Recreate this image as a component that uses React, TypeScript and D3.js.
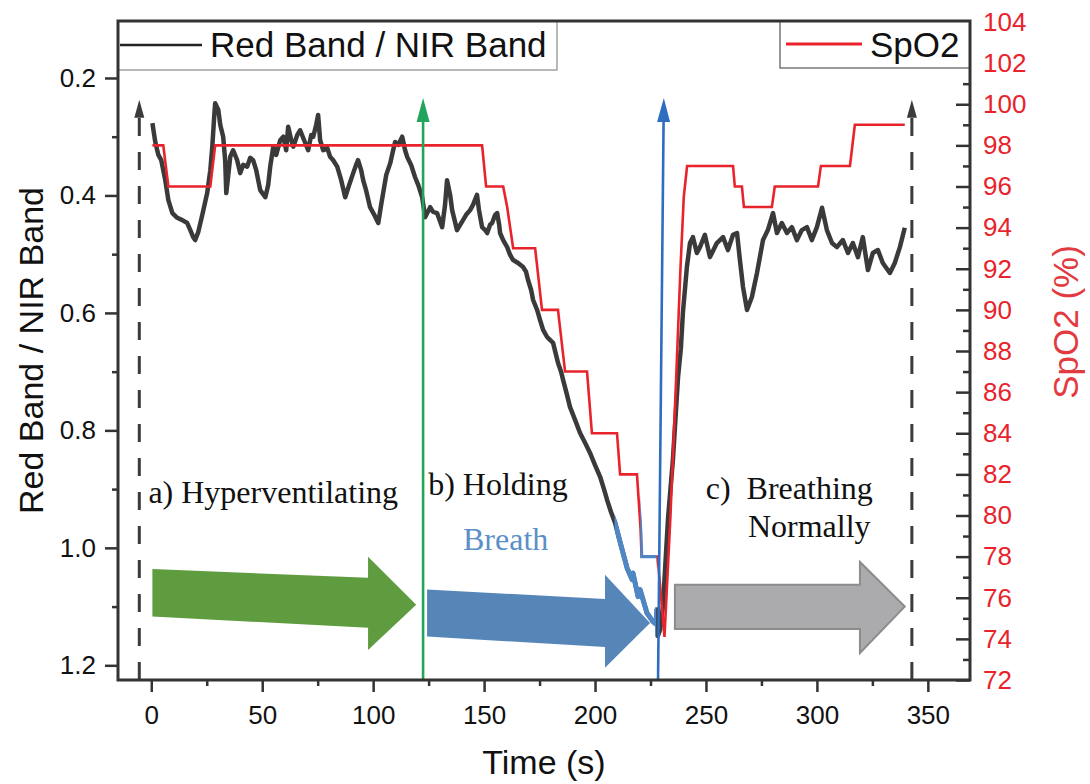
import React, { useEffect, useRef } from 'react';
import * as d3 from 'd3';

// Red band / NIR band ratio (left axis, inverted)
const ratioTime = [0.5, 1.8, 3.2, 4.5, 6.3, 7.7, 9.5, 11.7, 14, 16.2, 17.6, 18.9, 19.8, 21.2, 23, 25.2, 26.6, 27.5, 28.4, 28.8,
  30.2, 31.1, 32.4, 33.3, 33.8, 34.7, 35.6, 36.9, 38.7, 40.1, 41.4, 43.2, 44.6, 45.9, 47.3, 49.1, 51.4, 52.7, 53.6, 55,
  56.3, 58.1, 59.5, 60.8, 61.7, 63.1, 64, 65.8, 67.1, 68.9, 70.7, 72.1, 73, 74.3, 75.2, 76.1, 77.5, 79.3, 80.6, 82,
  83.8, 85.6, 87.4, 89.2, 91, 92.3, 93.2, 94.6, 95.5, 96.8, 98.6, 100.5, 102.3, 103.6, 104.5, 105.9, 107.7, 109, 109.9, 111.3,
  113.1, 114.4, 115.3, 117.1, 118.9, 120.3, 122.1, 123.4, 125.7, 127, 128.8, 131.1, 132.4, 133.3, 134.7, 135.6, 136.9, 137.8, 139.2, 140.5,
  141.9, 143.7, 145, 146.8, 147.7, 149.1, 150.5, 151.4, 152.7, 153.6, 155, 155.9, 156.8, 157.2, 158.6, 160.4, 161.7, 163.1, 165.3, 167.6,
  168.9, 169.8, 171.2, 172.1, 173.9, 175.2, 176.6, 178.4, 179.7, 181.1, 182.4, 183.3, 184.7, 185.6, 187.4, 188.7, 191, 193.2, 195.5, 197.7,
  200, 202.3, 204.1, 205.4, 207.2, 209, 212, 214.5, 216.7, 217.1, 219.4, 220.3, 223.4, 226, 227.5, 227.9, 228.3, 229.3, 230.6, 232.9,
  235.1, 237.4, 238.7, 239.6, 241.4, 242.8, 244.1, 245.9, 247.3, 249.5, 251.8, 254.9, 257.7, 259.9, 262.2, 264, 265.3, 266.7, 268.5, 270.7,
  273, 275.7, 277.9, 280.2, 282, 284.2, 286.5, 288.7, 291, 293.2, 295.5, 297.7, 300, 302.3, 304.5, 306.8, 309, 311.7, 314, 316.2,
  318.5, 320.7, 323, 325.2, 327.5, 329.7, 332.9, 335.1, 337.4, 339.6];
const ratioValue = [0.277, 0.309, 0.331, 0.34, 0.374, 0.408, 0.43, 0.438, 0.442, 0.447, 0.459, 0.471, 0.476, 0.462, 0.433, 0.396, 0.357, 0.317, 0.263, 0.243,
  0.254, 0.28, 0.3, 0.34, 0.396, 0.365, 0.334, 0.323, 0.34, 0.362, 0.348, 0.351, 0.336, 0.34, 0.357, 0.391, 0.403, 0.382, 0.351, 0.317,
  0.331, 0.306, 0.3, 0.323, 0.283, 0.306, 0.317, 0.297, 0.289, 0.306, 0.323, 0.297, 0.3, 0.28, 0.263, 0.306, 0.323, 0.319, 0.334, 0.34,
  0.351, 0.374, 0.403, 0.382, 0.362, 0.348, 0.34, 0.357, 0.374, 0.391, 0.42, 0.433, 0.447, 0.416, 0.396, 0.365, 0.345, 0.323, 0.309, 0.314,
  0.3, 0.323, 0.334, 0.348, 0.369, 0.382, 0.403, 0.437, 0.42, 0.428, 0.43, 0.454, 0.416, 0.374, 0.399, 0.425, 0.445, 0.459, 0.45, 0.442,
  0.433, 0.425, 0.416, 0.399, 0.425, 0.454, 0.459, 0.464, 0.45, 0.447, 0.433, 0.43, 0.45, 0.464, 0.476, 0.488, 0.501, 0.51, 0.515, 0.522,
  0.53, 0.544, 0.561, 0.578, 0.595, 0.612, 0.629, 0.641, 0.646, 0.651, 0.671, 0.685, 0.7, 0.714, 0.74, 0.76, 0.782, 0.804, 0.821, 0.838,
  0.859, 0.879, 0.901, 0.918, 0.939, 0.957, 1.0, 1.035, 1.054, 1.043, 1.083, 1.071, 1.111, 1.125, 1.13, 1.105, 1.15, 1.14, 1.1, 0.95,
  0.85, 0.71, 0.66, 0.6, 0.522, 0.481, 0.471, 0.498, 0.488, 0.467, 0.505, 0.481, 0.471, 0.493, 0.467, 0.464, 0.51, 0.556, 0.595, 0.573,
  0.532, 0.476, 0.459, 0.43, 0.464, 0.447, 0.464, 0.454, 0.476, 0.459, 0.454, 0.476, 0.454, 0.421, 0.459, 0.481, 0.488, 0.476, 0.498, 0.481,
  0.505, 0.471, 0.527, 0.498, 0.493, 0.515, 0.532, 0.515, 0.488, 0.455];

// SpO2 (right axis)
const spo2Time = [0.5, 5.4, 7.7, 26.6, 28.8, 149.1, 150.9, 158.6, 160.4, 163.1, 173, 176.1, 183.3, 186.5, 196.4, 198.6, 209.9, 211.3, 218.9, 220.5,
  221, 227, 228.2, 231.3, 234, 236.5, 238.5, 240, 241.5, 262.2, 263, 266.2, 267.1, 279.7, 281, 300.5, 301.8, 314.9, 317.1, 339.6];
const spo2Value = [98, 98, 96, 96, 98, 98, 96, 96, 95, 93, 93, 90, 90, 87, 87, 84, 84, 82, 82, 79.4,
  78, 78, 78, 74.1, 80, 86.5, 92, 95.5, 97, 97, 96, 96, 95, 95, 96, 96, 97, 97, 99, 99];

// parts of the two curves re-coloured blue in the "breath holding" zone
const ratioBlueWindow = [208.8, 227.6];
const spo2BlueWindow = [220.4, 227.8];

const xTicks = [0, 50, 100, 150, 200, 250, 300, 350];
const xMinorTicks = [25, 75, 125, 175, 225, 275, 325];
const leftTicks = [0.2, 0.4, 0.6, 0.8, 1.0, 1.2];
const leftMinorTicks = [0.3, 0.5, 0.7, 0.9, 1.1];
const rightTicks = [72, 74, 76, 78, 80, 82, 84, 86, 88, 90, 92, 94, 96, 98, 100, 102, 104];
const rightMinorTicks = [73, 75, 77, 79, 81, 83, 85, 87, 89, 91, 93, 95, 97, 99, 101, 103];

// phase markers: [time at base, time at tip, ratio at tip]
const dashedMarkers = [[-5.4, -5.4, 0.237], [342.8, 342.8, 0.237]];
const greenMarker = [122.5, 122.5, 0.234];
const blueMarker = [228.4, 231, 0.234];

// block arrows as [time, ratio] outlines
const greenBlock = [[0.5, 1.036], [97.7, 1.051], [97.7, 1.015], [119.4, 1.097], [97.7, 1.174], [97.7, 1.136], [0.5, 1.117]];
const blueBlock = [[124.3, 1.071], [204.5, 1.087], [204.5, 1.046], [224.8, 1.128], [204.5, 1.204], [204.5, 1.169], [124.3, 1.151]];
const grayBlock = [[236, 1.063], [319.4, 1.063], [319.4, 1.024], [339.6, 1.1], [319.4, 1.179], [319.4, 1.138], [236, 1.138]];

// phase labels [text, time, ratio, colour]
const phaseLabels = [
  ['a) Hyperventilating', -1.3, 0.923, '#111'],
  ['b) Holding', 124.8, 0.91, '#111'],
  ['Breath', 140.5, 1.003, '#5b8fc8'],
  ['c)  Breathing', 249.9, 0.917, '#111'],
  ['Normally', 268.9, 0.981, '#111'],
];

const W = 1090, H = 784;
const left = 118, right = 970, top = 21, bottom = 680;
const SANS = '"Liberation Sans", Arial, sans-serif';
const SERIF = '"Liberation Serif", "Times New Roman", serif';
const RED = '#e8232b';
const AXIS = '#333';

export default function App() {
  const ref = useRef<SVGSVGElement>(null);

  useEffect(() => {
    const svg = d3.select(ref.current);
    svg.selectAll('*').remove();

    const x = d3.scaleLinear().domain([-15, 369]).range([left, right]);
    const y = d3.scaleLinear().domain([0.103, 1.225]).range([top, bottom]);
    const y2 = d3.scaleLinear().domain([72, 104]).range([bottom, top + 1]);

    const defs = svg.append('defs');
    const addClip = (id: string, w: number[]) =>
      defs.append('clipPath').attr('id', id).append('rect')
        .attr('x', x(w[0])).attr('y', top).attr('width', x(w[1]) - x(w[0])).attr('height', bottom - top);
    addClip('blueRatio', ratioBlueWindow);
    addClip('blueSpo2', spo2BlueWindow);

    // block arrows
    const blockLine = d3.line<number[]>().x(d => x(d[0])).y(d => y(d[1]));
    const blocks: [number[][], string, string][] = [
      [greenBlock, '#5f9c3f', 'none'],
      [blueBlock, '#5686b8', 'none'],
      [grayBlock, '#ababad', '#8c8c8c'],
    ];
    blocks.forEach(([pts, fill, stroke]) => {
      svg.append('path').attr('d', blockLine(pts) + 'Z')
        .attr('fill', fill).attr('stroke', stroke).attr('stroke-width', 2);
    });

    // ratio curve
    const ratioData = ratioTime.map((t, i) => [t, ratioValue[i]]);
    const ratioLine = d3.line<number[]>().x(d => x(d[0])).y(d => y(d[1]));
    svg.append('path').attr('d', ratioLine(ratioData)).attr('fill', 'none')
      .attr('stroke', '#3a3a3a').attr('stroke-width', 4.5).attr('stroke-linejoin', 'round');
    svg.append('path').attr('d', ratioLine(ratioData)).attr('fill', 'none')
      .attr('clip-path', 'url(#blueRatio)')
      .attr('stroke', '#4f86c4').attr('stroke-width', 5).attr('stroke-linejoin', 'round');

    // SpO2 curve
    const spo2Data = spo2Time.map((t, i) => [t, spo2Value[i]]);
    const spo2Line = d3.line<number[]>().x(d => x(d[0])).y(d => y2(d[1]));
    svg.append('path').attr('d', spo2Line(spo2Data)).attr('fill', 'none')
      .attr('stroke', RED).attr('stroke-width', 2.6);
    svg.append('path').attr('d', spo2Line(spo2Data)).attr('fill', 'none')
      .attr('clip-path', 'url(#blueSpo2)')
      .attr('stroke', '#4f86c4').attr('stroke-width', 3.4);

    // phase marker arrows
    const marker = (m: number[], color: string, dashed: boolean, hw: number, hh: number, sw: number) => {
      const bx = x(m[0]), tx = x(m[1]), ty = y(m[2]);
      const ux = tx + (bx - tx) * hh / (bottom - ty);
      svg.append('line').attr('x1', bx).attr('y1', bottom).attr('x2', ux).attr('y2', ty + hh)
        .attr('stroke', color).attr('stroke-width', sw)
        .attr('stroke-dasharray', dashed ? '18 16' : null);
      svg.append('path')
        .attr('d', `M${tx},${ty}L${ux - hw / 2},${ty + hh}L${ux + hw / 2},${ty + hh}Z`)
        .attr('fill', color);
    };
    dashedMarkers.forEach(m => marker(m, '#3b3b3b', true, 10, 18, 3));
    marker(greenMarker, '#22a45a', false, 13, 24, 2.6);
    marker(blueMarker, '#2e6dbf', false, 13, 24, 2.6);

    // phase labels
    phaseLabels.forEach(([txt, t, r, c]) => {
      svg.append('text').attr('x', x(t as number)).attr('y', y(r as number))
        .attr('font-family', SERIF).attr('font-size', 32).attr('fill', c as string)
        .style('white-space', 'pre').text(txt as string);
    });

    // axes
    const styleAxis = (g: d3.Selection<SVGGElement, unknown, null, undefined>, color: string) => {
      g.select('.domain').remove();
      g.selectAll('line').attr('stroke', AXIS).attr('stroke-width', 2.5);
      g.selectAll('text').attr('font-family', SANS).attr('font-size', 26).attr('fill', color);
    };
    const gx = svg.append('g').attr('transform', `translate(0,${bottom})`)
      .call(d3.axisBottom(x).tickValues(xTicks).tickSize(12).tickPadding(14).tickFormat(d3.format('d')));
    styleAxis(gx, '#111');
    const gxm = svg.append('g').attr('transform', `translate(0,${bottom})`)
      .call(d3.axisBottom(x).tickValues(xMinorTicks).tickSize(6).tickFormat(() => ''));
    styleAxis(gxm, '#111');

    const gy = svg.append('g').attr('transform', `translate(${left},0)`)
      .call(d3.axisLeft(y).tickValues(leftTicks).tickSize(13).tickPadding(9).tickFormat(d3.format('.1f')));
    styleAxis(gy, '#111');
    const gym = svg.append('g').attr('transform', `translate(${left},0)`)
      .call(d3.axisLeft(y).tickValues(leftMinorTicks).tickSize(6).tickFormat(() => ''));
    styleAxis(gym, '#111');

    const gy2 = svg.append('g').attr('transform', `translate(${right},0)`)
      .call(d3.axisRight(y2).tickValues(rightTicks).tickSize(-14).tickPadding(13).tickFormat(d3.format('d')));
    styleAxis(gy2, RED);
    const gy2m = svg.append('g').attr('transform', `translate(${right},0)`)
      .call(d3.axisRight(y2).tickValues(rightMinorTicks).tickSize(-7).tickFormat(() => ''));
    styleAxis(gy2m, RED);

    // legend boxes
    svg.append('rect').attr('x', left).attr('y', top).attr('width', 557 - left).attr('height', 49)
      .attr('fill', '#fff').attr('stroke', '#8a8a8a').attr('stroke-width', 1.2);
    svg.append('line').attr('x1', left + 2).attr('x2', 202).attr('y1', 45).attr('y2', 45)
      .attr('stroke', '#222').attr('stroke-width', 2.5);
    svg.append('text').attr('x', 210).attr('y', 57).attr('font-family', SANS).attr('font-size', 35)
      .attr('fill', '#111').text('Red Band / NIR Band');

    svg.append('rect').attr('x', 780).attr('y', top).attr('width', right - 780).attr('height', 47)
      .attr('fill', '#fff').attr('stroke', '#555').attr('stroke-width', 1.2);
    svg.append('line').attr('x1', 786).attr('x2', 862).attr('y1', 44).attr('y2', 44)
      .attr('stroke', RED).attr('stroke-width', 3);
    svg.append('text').attr('x', 870).attr('y', 57).attr('font-family', SANS).attr('font-size', 35)
      .attr('fill', '#111').text('SpO2');

    // frame
    svg.append('rect').attr('x', left).attr('y', top).attr('width', right - left).attr('height', bottom - top)
      .attr('fill', 'none').attr('stroke', AXIS).attr('stroke-width', 3);

    // axis titles
    svg.append('text').attr('x', (left + right) / 2).attr('y', 774).attr('text-anchor', 'middle')
      .attr('font-family', SANS).attr('font-size', 34).attr('fill', '#111').text('Time (s)');
    svg.append('text').attr('transform', `translate(43,${(top + bottom) / 2}) rotate(-90)`)
      .attr('text-anchor', 'middle').attr('font-family', SANS).attr('font-size', 34)
      .attr('fill', '#111').text('Red Band / NIR Band');
    svg.append('text').attr('transform', `translate(1078,322) rotate(-90)`)
      .attr('text-anchor', 'middle').attr('font-family', SANS).attr('font-size', 35)
      .attr('fill', '#e23a3f').text('SpO2 (%)');
  }, []);

  return (
    <svg ref={ref} width={W} height={H}
      style={{ position: 'absolute', left: 0, top: 0, background: '#fff' }} />
  );
}
